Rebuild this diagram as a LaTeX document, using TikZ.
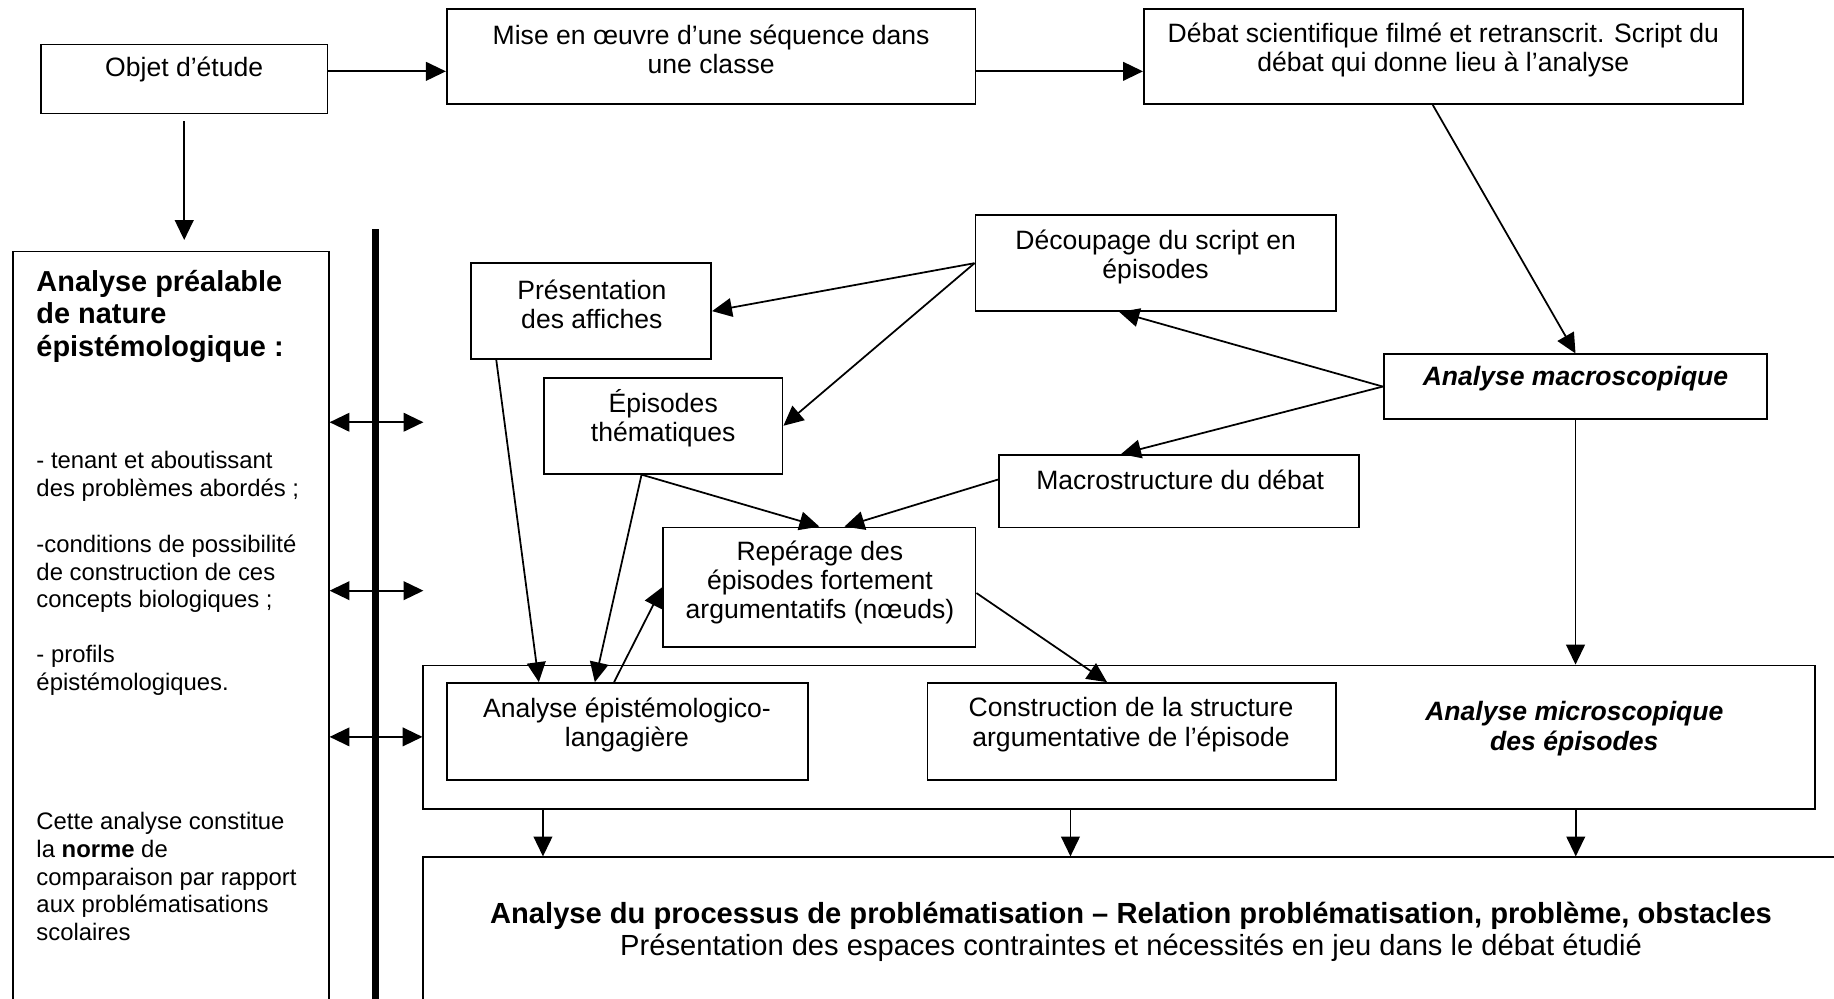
\documentclass[tikz,border=0pt]{standalone}
\usepackage{fontspec}
\setmainfont{Liberation Sans}
\usetikzlibrary{arrows.meta,calc}
\newcommand\myfA{\fontsize{22.7}{25}\selectfont}
\newcommand\myfO{\fontsize{22.7}{25}\selectfont}
\newcommand\myfL{\fontsize{20.4}{23.7}\selectfont}
\newcommand\myfT{\fontsize{24.7}{27.5}\selectfont\bfseries}
\newcommand\myfB{\fontsize{24.9}{27}\selectfont}
\begin{document}
\begin{tikzpicture}[x=1pt,y=-1pt,
  box/.style={draw, line width=1.6pt, inner sep=0pt},
  arr/.style={line width=1.5pt, -{Triangle[length=17pt,width=16pt]}},
  dbl/.style={line width=1.5pt, {Triangle[length=17pt,width=16pt]}-{Triangle[length=17pt,width=16pt]}},
  txt/.style={inner sep=0pt, align=center, font=\myfA},
  ltxt/.style={inner sep=0pt, align=left, anchor=west, font=\myfL},
]
\useasboundingbox (0,0) rectangle (1568,854);
\clip (0,0) rectangle (1568,854);

% boxes
\node[box, minimum width=245pt, minimum height=59pt] (objet) at (157.5,67.5) {};
\node[box, minimum width=452pt, minimum height=81pt] (mise) at (608,48.5) {};
\node[box, minimum width=512pt, minimum height=81pt] (debat) at (1234,48.5) {};
\node[box, minimum width=270pt, minimum height=668pt] (left) at (146,549) {};
\node[box, minimum width=308pt, minimum height=82pt] (decoup) at (988,225) {};
\node[box, minimum width=205pt, minimum height=82pt] (pres) at (505.5,266) {};
\node[box, minimum width=204pt, minimum height=82pt] (epi) at (567,364) {};
\node[box, minimum width=328pt, minimum height=55pt] (macro) at (1347,330.5) {};
\node[box, minimum width=308pt, minimum height=62pt] (mstr) at (1008,420) {};
\node[box, minimum width=267pt, minimum height=102pt] (rep) at (700.5,502) {};
\node[box, minimum width=1190pt, minimum height=123pt] (micro) at (957,630.5) {};
\node[box, minimum width=309pt, minimum height=83pt] (ael) at (536.5,625.5) {};
\node[box, minimum width=349pt, minimum height=83pt] (cons) at (967.5,625.5) {};
\node[box, minimum width=1238pt, minimum height=167pt] (bottom) at (981,816.5) {};

% texts
\node[txt, font=\myfO] (tobjet) at (157.5,59) {Objet d’étude};
\node[txt] (tmise) at (608,42.5) {Mise en œuvre d’une séquence dans\\une classe};
\node[txt] (tdebat) at (1234,42.5) {Débat scientifique filmé et retranscrit. Script du\\débat qui donne lieu à l’analyse};
\node[txt] (tdecoup) at (988,220) {Découpage du script en\\épisodes};
\node[txt] (tpres) at (506,260.5) {Présentation\\des affiches};
\node[txt] (tepi) at (567,357.5) {Épisodes\\thématiques};
\node[txt, font=\myfA\bfseries\itshape] (tmacro) at (1347,324) {Analyse macroscopique};
\node[txt] (tmstr) at (1009,410) {Macrostructure du débat};
\node[txt] (trep) at (701,498) {Repérage des\\épisodes fortement\\argumentatifs (nœuds)};
\node[txt] (tael) at (536,619.5) {Analyse épistémologico-\\langagière};
\node[txt] (tcons) at (967,619.5) {Construction de la structure\\argumentative de l’épisode};
\node[txt, font=\myfA\bfseries\itshape] (tmicro) at (1346,623) {Analyse microscopique\\des épisodes};
\node[txt, font=\myfB] (tbottom) at (967,796.5) {\textbf{Analyse du processus de problématisation – Relation problématisation, problème, obstacles}\\Présentation des espaces contraintes et nécessités en jeu dans le débat étudié};

\node[ltxt, font=\myfT] (ltitle) at (31,270.5) {Analyse préalable\\de nature\\épistémologique :};
\node[ltxt] (l1) at (31,407) {- tenant et aboutissant\\des problèmes abordés ;};
\node[ltxt] (l2) at (31,490.5) {-conditions de possibilité\\de construction de ces\\concepts biologiques ;};
\node[ltxt] (l3) at (31,573) {- profils\\épistémologiques.};
\node[ltxt] (l4) at (31,749.5) {Cette analyse constitue\\la \textbf{norme} de\\comparaison par rapport\\aux problématisations\\scolaires};

% thick separator
\draw[line width=5.5pt] (321,196) -- (321,870);

% connectors
\draw[arr] ([yshift=6.5pt]objet.east) -- ([yshift=6.5pt]objet.east -| mise.west);
\draw[arr] ([yshift=-12.5pt]mise.east) -- ([yshift=-12.5pt]mise.east -| debat.west);
\draw[arr] ([yshift=-6pt]objet.south) -- ([yshift=9pt]objet.south |- left.north);
\draw[arr] ([xshift=-9pt]debat.south) -- (macro.north);
\draw[arr] (decoup.west) -- (pres.east);
\draw[arr] (decoup.west) -- (epi.east);
\draw[arr] (macro.west) -- ($(decoup.south west)!0.4!(decoup.south east)$);
\draw[arr] (macro.west) -- ($(mstr.north west)!0.34!(mstr.north east)$);
\draw[arr] ($(epi.south west)!0.41!(epi.south east)$) -- (rep.north);
\draw[arr] ([yshift=10pt]mstr.west) -- ($(rep.north west)!0.58!(rep.north east)$);
\draw[arr] ($(pres.south west)!0.107!(pres.south east)$) -- ($(ael.north west)!0.256!(ael.north east)$);
\draw[arr] ($(epi.south west)!0.41!(epi.south east)$) -- ($(ael.north west)!0.41!(ael.north east)$);
\draw[arr] ($(ael.north west)!0.463!(ael.north east)$) -- (rep.west);
\draw[arr] ([yshift=-5pt]rep.east) -- ($(cons.north west)!0.44!(cons.north east)$);
\draw[arr] (macro.south) -- (macro.south |- micro.north);
\draw[arr] ($(micro.south west)+(103,0)$) -- ($(micro.south west |- bottom.north)+(103,0)$);
\draw[arr] ($(micro.south west)+(554,0)$) -- ($(micro.south west |- bottom.north)+(554,0)$);
\draw[arr] ($(micro.south west)+(986,0)$) -- ($(micro.south west |- bottom.north)+(986,0)$);

% double arrows
\coordinate (d1) at (362,361);
\coordinate (d2) at (362,505);
\coordinate (d3) at (362,630);
\draw[dbl] (left.east |- d1) -- (d1);
\draw[dbl] (left.east |- d2) -- (d2);
\draw[dbl] (left.east |- d3) -- (micro.west |- d3);
\end{tikzpicture}
\end{document}
